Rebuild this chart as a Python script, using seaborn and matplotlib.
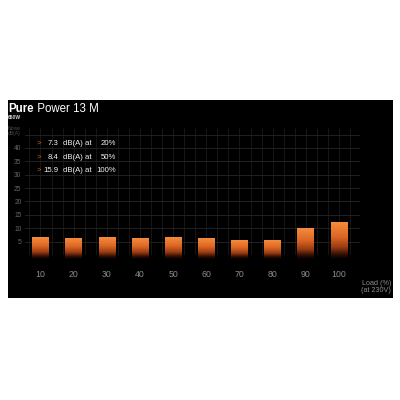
import matplotlib
matplotlib.use("Agg")
import matplotlib.pyplot as plt
import seaborn as sns
import numpy as np
import pandas as pd
from matplotlib.ticker import FixedLocator, MultipleLocator, NullFormatter
from matplotlib.colors import LinearSegmentedColormap

# ---- data ----
loads = ["10", "20", "30", "40", "50", "60", "70", "80", "90", "100"]
noise = [6.6, 6.0, 6.5, 6.0, 6.5, 6.0, 5.3, 5.6, 9.8, 12.3]
y_ticks = [5, 10, 15, 20, 25, 30, 35, 40]
note_values = ["7.3", "8.4", "15.9"]
note_loads = ["20%", "50%", "100%"]
title_bold = "Pure"
title_rest = " Power 13 M"
model = "650W"

sns.set_theme(style="dark")
plt.rcParams['font.family'] = ['Liberation Sans', 'DejaVu Sans']

W, H = 400, 400
XL = (-0.98, 10.63)
YL = (-16.1, 57.9)
AX_L, AX_B, AX_W, AX_H = 8, 102, 385, 198  # pixels (bottom measured from figure bottom)

fig = plt.figure(figsize=(4, 4), dpi=100, facecolor="white")

# black background panel
bg = fig.add_axes([AX_L / W, AX_B / H, AX_W / W, AX_H / H], zorder=0)
bg.set_facecolor("black")
bg.set_xticks([]); bg.set_yticks([])
for s in bg.spines.values():
    s.set_visible(False)

# grid panel (grid limited to a rectangle)
px_x = AX_W / (XL[1] - XL[0])
px_y = AX_H / (YL[1] - YL[0])
gx0, gx1, gy0, gy1 = -0.47, 9.63, 0, 47.5
gl = AX_L + (gx0 - XL[0]) * px_x
gb = AX_B + (gy0 - YL[0]) * px_y
ga = fig.add_axes([gl / W, gb / H, (gx1 - gx0) * px_x / W, (gy1 - gy0) * px_y / H], zorder=1)
ga.set_facecolor("none")
ga.set_xlim(gx0, gx1); ga.set_ylim(gy0, gy1)
ga.xaxis.set_major_locator(MultipleLocator(1 / 3))
ga.yaxis.set_major_locator(MultipleLocator(5))
ga.xaxis.set_major_formatter(NullFormatter())
ga.yaxis.set_major_formatter(NullFormatter())
ga.tick_params(length=0)
ga.grid(True, axis="x", color="#161616", lw=0.7)
ga.grid(True, axis="y", color="#202020", lw=0.7)
for s in ga.spines.values():
    s.set_visible(False)

# main bars axes
ax = fig.add_axes([AX_L / W, AX_B / H, AX_W / W, AX_H / H], zorder=2)
ax.set_facecolor("none")
for s in ax.spines.values():
    s.set_visible(False)

df = pd.DataFrame({"load": loads, "noise": noise})
sns.barplot(data=df, x="load", y="noise", ax=ax, width=0.5,
            color="#E87030", saturation=1, zorder=3)

cmap = LinearSegmentedColormap.from_list(
    "bar", [(0.0, "#000000"), (0.12, "#2e0e04"), (0.32, "#9a3c12"),
            (0.6, "#dc6624"), (1.0, "#f68c3c")])
grad = np.linspace(0, 1, 256).reshape(-1, 1)
for p in list(ax.patches):
    x0, y0 = p.get_x(), p.get_y()
    w, h = p.get_width(), p.get_height()
    p.set_facecolor("none")
    p.set_edgecolor("none")
    ax.imshow(grad, extent=[x0, x0 + w, y0 - 1.5, y0 + h], origin="lower",
              aspect="auto", cmap=cmap, zorder=3, interpolation="bicubic")

ax.set_xlim(*XL)
ax.set_ylim(*YL)
ax.set_xlabel("")
ax.set_ylabel("")
ax.grid(False)
ax.yaxis.set_major_locator(FixedLocator(y_ticks))
ax.tick_params(axis="y", colors="#666666", labelsize=4.8, pad=-9.7, length=0)
ax.tick_params(axis="x", colors="#8c8c8c", labelsize=6.3, pad=-20, length=0)

ax.text(0.995, 0.02, "Load (%)\n(at 230V)", transform=ax.transAxes, ha="right",
        va="bottom", multialignment="right", fontsize=5.2, color="#8c8c8c", linespacing=1.0)

# title
fig.canvas.draw()
r = fig.canvas.get_renderer()
tb = fig.text(8 / W, 1 - 112 / H, title_bold, fontsize=8.3, fontweight="bold",
              color="white", ha="left", va="baseline", zorder=5)
bb = tb.get_window_extent(renderer=r)
fig.text(bb.x1 / W, 1 - 112 / H, title_rest, fontsize=8.3, color="white",
         ha="left", va="baseline", zorder=5)
fig.text(8 / W, 1 - 117.5 / H, model, fontsize=3.6, fontweight="bold",
         color="#d0d0d0", ha="left", va="center", zorder=5)
fig.text(8 / W, 1 - 128 / H, "Noise", fontsize=3.6, color="#4a4a4a", ha="left", va="center", zorder=5)
fig.text(8 / W, 1 - 134 / H, "dB(A)", fontsize=3.6, color="#4a4a4a", ha="left", va="center", zorder=5)

# notes
for i, (v, l) in enumerate(zip(note_values, note_loads)):
    yc = 1 - (143.5 + 13.5 * i) / H
    kw = dict(fontsize=5.6, va="center", zorder=5)
    fig.text(37 / W, yc, ">", color="#d06020", ha="left", **kw)
    fig.text(58.5 / W, yc, v, color="#f0f0f0", ha="right", **kw)
    fig.text(63 / W, yc, "dB(A) at", color="#f0f0f0", ha="left", **kw)
    fig.text(115.7 / W, yc, l, color="#f0f0f0", ha="right", **kw)

fig.savefig("out.png", dpi=100, facecolor="white")
